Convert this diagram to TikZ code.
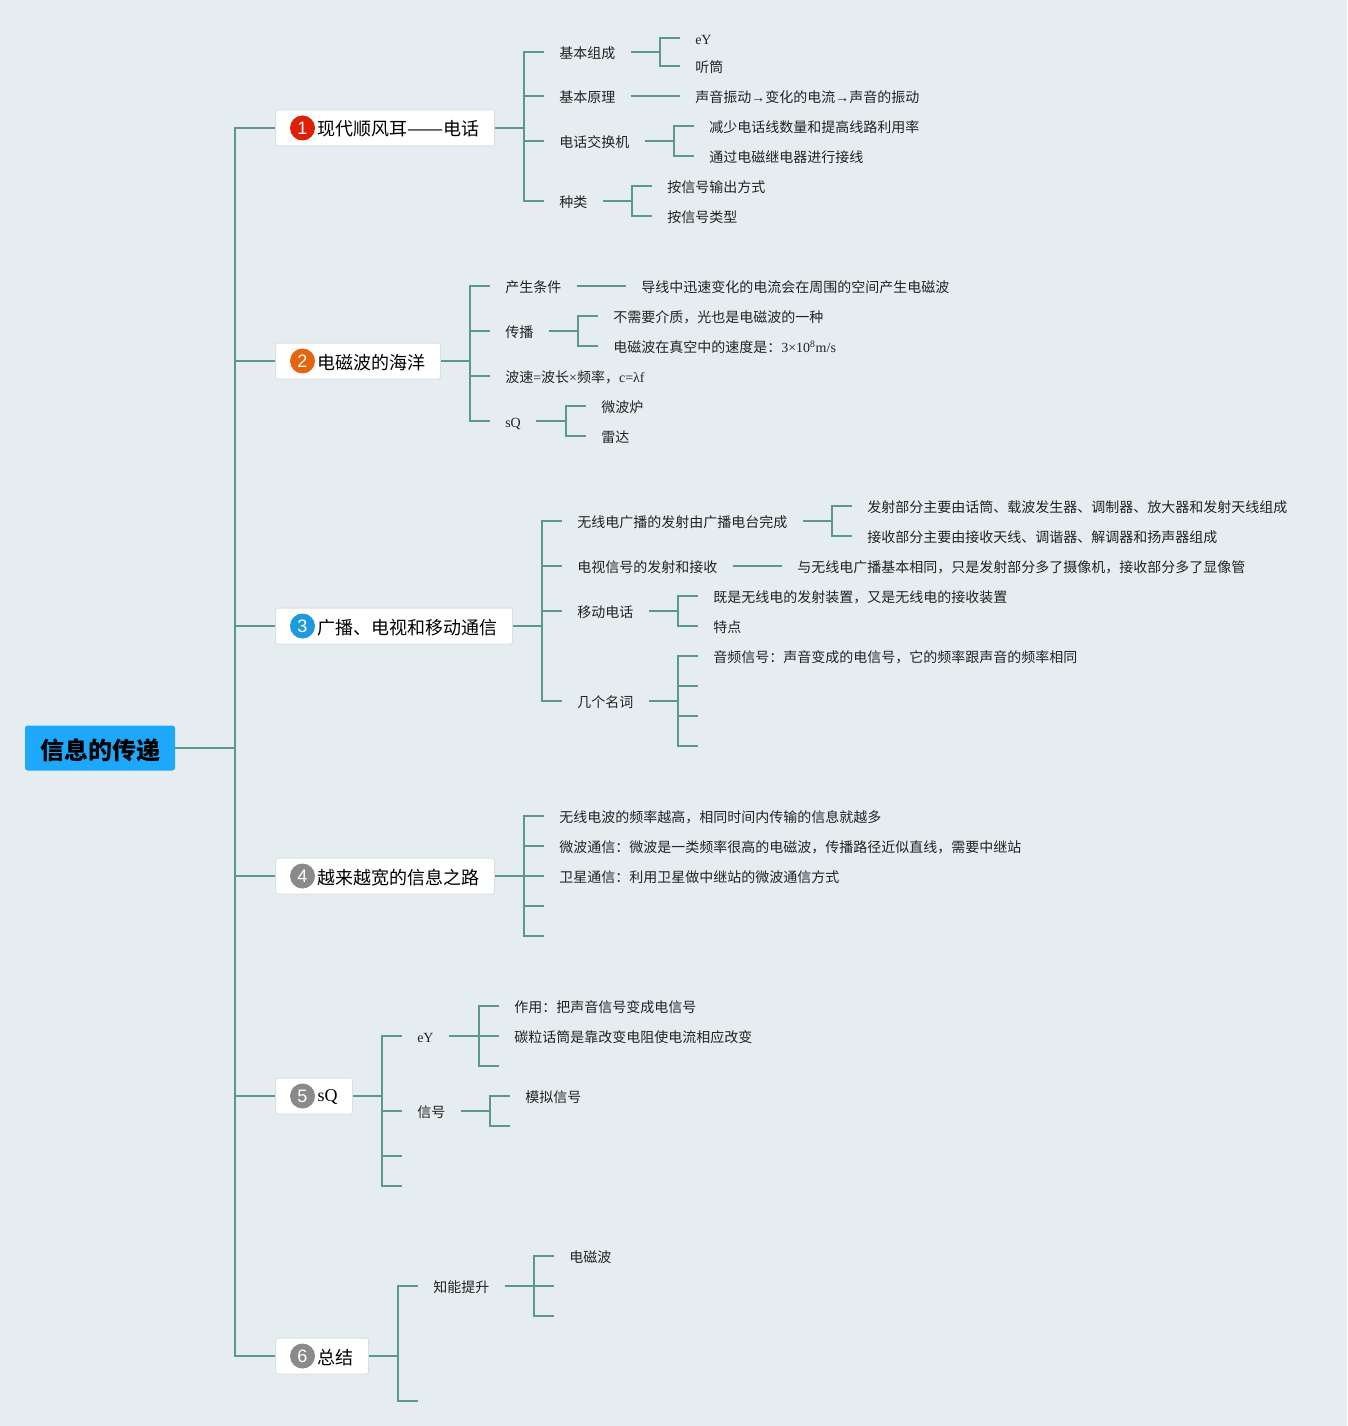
\documentclass[tikz,border=0pt]{standalone}
\usepackage{fontspec}
\setmainfont{Noto Sans CJK SC}
\newfontfamily\lat{Liberation Serif}
\newfontfamily\digit{Liberation Sans}
\definecolor{bgcol}{HTML}{E5EDF1}
\definecolor{linecol}{HTML}{5B998C}
\definecolor{rootcol}{HTML}{1EA8FB}
\definecolor{edgecol}{HTML}{DADFE3}
\definecolor{inkcol}{HTML}{222222}
\definecolor{redcol}{HTML}{DE1F0A}
\definecolor{orangecol}{HTML}{E5640F}
\definecolor{bluecol}{HTML}{1E9BDD}
\definecolor{graycol}{HTML}{8A8A8A}
\tikzset{
  rootbox/.style={fill=rootcol,rounded corners=2pt,minimum width=112.5pt,minimum height=33.75pt,inner sep=0pt,
    text height=18pt,text depth=1.5pt,font=\fontsize{18}{20}\selectfont\bfseries,text=black},
  topic/.style={anchor=west,fill=white,draw=edgecol,line width=0.75pt,rounded corners=1.5pt,minimum height=27pt,
    inner xsep=11.25pt,inner ysep=0pt,text height=14pt,text depth=2pt,font=\fontsize{13.5}{15}\selectfont,text=black,
    execute at begin node=\hspace{20.25pt}},
  leaf/.style={anchor=west,inner xsep=11.25pt,inner ysep=0pt,text height=11pt,text depth=1.5pt,
    font=\fontsize{10.5}{12}\selectfont,text=inkcol},
  badge/.style={circle,minimum size=18.75pt,inner sep=0pt,text=white,font=\digit\fontsize{13.5}{15}\selectfont},
  branch/.style={draw=linecol,line width=1.8pt}
}
\begin{document}
\begin{tikzpicture}[x=0.75pt,y=-0.75pt]
\fill[bgcol] (0,0) rectangle (1347,1426);
\useasboundingbox (0,0) rectangle (1347,1426);

% root and main topics
\node[rootbox] (root) at (100,748) {信息的传递};
\node[topic] (t1) at (275,128) {现代顺风耳\scalebox{1.2}[1]{——}电话};
\node[topic] (t2) at (275,361) {电磁波的海洋};
\node[topic] (t3) at (275,626) {广播、电视和移动通信};
\node[topic] (t4) at (275,876) {越来越宽的信息之路};
\node[topic] (t5) at (275,1096) {\raisebox{2.25pt}{\lat sQ}};
\node[topic] (t6) at (275,1356) {总结};
\node[badge,fill=redcol] (n1) at (302.5,128) {1};
\node[badge,fill=orangecol] (n2) at (302.5,361) {2};
\node[badge,fill=bluecol] (n3) at (302.5,626) {3};
\node[badge,fill=graycol] (n4) at (302.5,876) {4};
\node[badge,fill=graycol] (n5) at (302.5,1096) {5};
\node[badge,fill=graycol] (n6) at (302.5,1356) {6};

% topic 1
\node[leaf] (a1) at (544,52) {基本组成};
\node[leaf] (a11) at (680,38) {\lat eY};
\node[leaf] (a12) at (680,66) {听筒};
\node[leaf] (a2) at (544,96) {基本原理};
\node[leaf] (a21) at (680,96) {声音振动{\lat →}变化的电流{\lat →}声音的振动};
\node[leaf] (a3) at (544,141) {电话交换机};
\node[leaf] (a31) at (694,126) {减少电话线数量和提高线路利用率};
\node[leaf] (a32) at (694,156) {通过电磁继电器进行接线};
\node[leaf] (a4) at (544,201) {种类};
\node[leaf] (a41) at (652,186) {按信号输出方式};
\node[leaf] (a42) at (652,216) {按信号类型};

% topic 2
\node[leaf] (b1) at (490,286) {产生条件};
\node[leaf] (b11) at (626,286) {导线中迅速变化的电流会在周围的空间产生电磁波};
\node[leaf] (b2) at (490,331) {传播};
\node[leaf] (b21) at (598,316) {不需要介质，光也是电磁波的一种};
\node[leaf] (b22) at (598,346) {电磁波在真空中的速度是：{\lat 3×10\textsuperscript{8}m/s}};
\node[leaf] (b3) at (490,376) {波速{\lat =}波长{\lat ×}频率，{\lat c=λf}};
\node[leaf] (b4) at (490,421) {\lat sQ};
\node[leaf] (b41) at (586,406) {微波炉};
\node[leaf] (b42) at (586,436) {雷达};

% topic 3
\node[leaf] (c1) at (562,521) {无线电广播的发射由广播电台完成};
\node[leaf] (c11) at (852,506) {发射部分主要由话筒、载波发生器、调制器、放大器和发射天线组成};
\node[leaf] (c12) at (852,536) {接收部分主要由接收天线、调谐器、解调器和扬声器组成};
\node[leaf] (c2) at (562,566) {电视信号的发射和接收};
\node[leaf] (c21) at (782,566) {与无线电广播基本相同，只是发射部分多了摄像机，接收部分多了显像管};
\node[leaf] (c3) at (562,611) {移动电话};
\node[leaf] (c31) at (698,596) {既是无线电的发射装置，又是无线电的接收装置};
\node[leaf] (c32) at (698,626) {特点};
\node[leaf] (c4) at (562,701) {几个名词};
\node[leaf] (c41) at (698,656) {音频信号：声音变成的电信号，它的频率跟声音的频率相同};

% topic 4
\node[leaf] (d1) at (544,816) {无线电波的频率越高，相同时间内传输的信息就越多};
\node[leaf] (d2) at (544,846) {微波通信：微波是一类频率很高的电磁波，传播路径近似直线，需要中继站};
\node[leaf] (d3) at (544,876) {卫星通信：利用卫星做中继站的微波通信方式};

% topic 5
\node[leaf] (e1) at (402,1036) {\lat eY};
\node[leaf] (e11) at (499,1006) {作用：把声音信号变成电信号};
\node[leaf] (e12) at (499,1036) {碳粒话筒是靠改变电阻使电流相应改变};
\node[leaf] (e2) at (402,1111) {信号};
\node[leaf] (e21) at (510,1096) {模拟信号};

% topic 6
\node[leaf] (f1) at (418,1286) {知能提升};
\node[leaf] (f11) at (554,1256) {电磁波};

% junctions and free ends
\coordinate (j0) at (235,748);
\coordinate (j1) at (524,128);
\coordinate (j2) at (470,361);
\coordinate (j3) at (542,626);
\coordinate (j4) at (524,876);
\coordinate (j5) at (382,1096);
\coordinate (j6) at (398,1356);
\coordinate (ja1) at (660,52);
\coordinate (ja3) at (674,141);
\coordinate (ja4) at (632,201);
\coordinate (jb2) at (578,331);
\coordinate (jb4) at (566,421);
\coordinate (jc1) at (832,521);
\coordinate (jc3) at (678,611);
\coordinate (jc4) at (678,701);
\coordinate (je1) at (479,1036);
\coordinate (je2) at (490,1111);
\coordinate (jf1) at (534,1286);
\coordinate (c42) at (698,686);
\coordinate (c43) at (698,716);
\coordinate (c44) at (698,746);
\coordinate (d4) at (544,906);
\coordinate (d5) at (544,936);
\coordinate (e13) at (499,1066);
\coordinate (e22) at (510,1126);
\coordinate (e3) at (402,1156);
\coordinate (e4) at (402,1186);
\coordinate (f12) at (554,1286);
\coordinate (f13) at (554,1316);
\coordinate (f2) at (418,1401);

% connectors from the root
\path[branch] (root) -- (j0);
\path[branch] (j0) |- (t1.west);
\path[branch] (j0) |- (t2.west);
\path[branch] (j0) |- (t3.west);
\path[branch] (j0) |- (t4.west);
\path[branch] (j0) |- (t5.west);
\path[branch] (j0) |- (t6.west);

% connectors of topic 1
\path[branch] (t1) -- (j1);
\path[branch] (j1) |- (a1.west);
\path[branch] (j1) |- (a2.west);
\path[branch] (j1) |- (a3.west);
\path[branch] (j1) |- (a4.west);
\path[branch] (a1) -- (ja1);
\path[branch] (ja1) |- (a11.west);
\path[branch] (ja1) |- (a12.west);
\path[branch] (a2) -- (a21);
\path[branch] (a3) -- (ja3);
\path[branch] (ja3) |- (a31.west);
\path[branch] (ja3) |- (a32.west);
\path[branch] (a4) -- (ja4);
\path[branch] (ja4) |- (a41.west);
\path[branch] (ja4) |- (a42.west);

% connectors of topic 2
\path[branch] (t2) -- (j2);
\path[branch] (j2) |- (b1.west);
\path[branch] (j2) |- (b2.west);
\path[branch] (j2) |- (b3.west);
\path[branch] (j2) |- (b4.west);
\path[branch] (b1) -- (b11);
\path[branch] (b2) -- (jb2);
\path[branch] (jb2) |- (b21.west);
\path[branch] (jb2) |- (b22.west);
\path[branch] (b4) -- (jb4);
\path[branch] (jb4) |- (b41.west);
\path[branch] (jb4) |- (b42.west);

% connectors of topic 3
\path[branch] (t3) -- (j3);
\path[branch] (j3) |- (c1.west);
\path[branch] (j3) |- (c2.west);
\path[branch] (j3) |- (c3.west);
\path[branch] (j3) |- (c4.west);
\path[branch] (c1) -- (jc1);
\path[branch] (jc1) |- (c11.west);
\path[branch] (jc1) |- (c12.west);
\path[branch] (c2) -- (c21);
\path[branch] (c3) -- (jc3);
\path[branch] (jc3) |- (c31.west);
\path[branch] (jc3) |- (c32.west);
\path[branch] (c4) -- (jc4);
\path[branch] (jc4) |- (c41.west);
\path[branch] (jc4) |- (c42);
\path[branch] (jc4) |- (c43);
\path[branch] (jc4) |- (c44);

% connectors of topic 4
\path[branch] (t4) -- (j4);
\path[branch] (j4) |- (d1.west);
\path[branch] (j4) |- (d2.west);
\path[branch] (j4) |- (d3.west);
\path[branch] (j4) |- (d4);
\path[branch] (j4) |- (d5);

% connectors of topic 5
\path[branch] (t5) -- (j5);
\path[branch] (j5) |- (e1.west);
\path[branch] (j5) |- (e2.west);
\path[branch] (j5) |- (e3);
\path[branch] (j5) |- (e4);
\path[branch] (e1) -- (je1);
\path[branch] (je1) |- (e11.west);
\path[branch] (je1) |- (e12.west);
\path[branch] (je1) |- (e13);
\path[branch] (e2) -- (je2);
\path[branch] (je2) |- (e21.west);
\path[branch] (je2) |- (e22);

% connectors of topic 6
\path[branch] (t6) -- (j6);
\path[branch] (j6) |- (f1.west);
\path[branch] (j6) |- (f2);
\path[branch] (f1) -- (jf1);
\path[branch] (jf1) |- (f11.west);
\path[branch] (jf1) |- (f12);
\path[branch] (jf1) |- (f13);
\end{tikzpicture}
\end{document}
